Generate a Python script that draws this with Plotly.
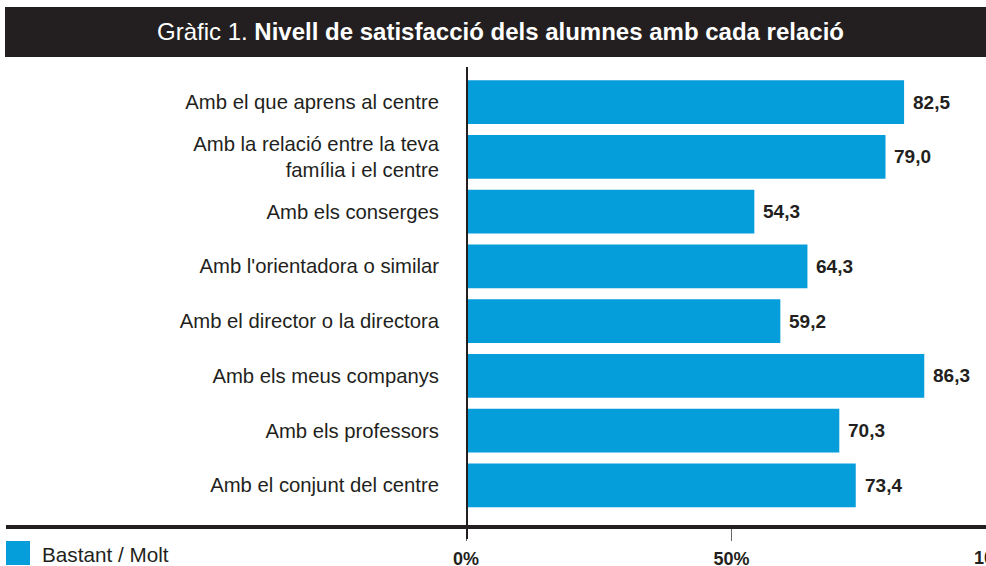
import plotly.graph_objects as go

categories = [
    "Amb el que aprens al centre",
    "Amb la relació entre la teva<br>família i el centre",
    "Amb els conserges",
    "Amb l'orientadora o similar",
    "Amb el director o la directora",
    "Amb els meus companys",
    "Amb els professors",
    "Amb el conjunt del centre",
]
values = [82.5, 79.0, 54.3, 64.3, 59.2, 86.3, 70.3, 73.4]
x_tickvals = [0, 50]
x_ticktext = ["0%", "50%"]
extra_tick_label = "100%"
legend_label = "Bastant / Molt"
title_regular = "Gràfic 1."
title_bold = "Nivell de satisfacció dels alumnes amb cada relació"

BLUE = "#069ddb"
DARK = "#231f20"
FONT = "Liberation Sans, Arial, sans-serif"

W, H = 986, 566
L, R, T, B = 466, 0, 67, 39
plot_w = W - L - R
plot_h = H - T - B
px_per_unit = 5.31


def px_x(px):
    return (px - L) / plot_w


def px_y(py):
    return (H - B - py) / plot_h


ypos = list(range(len(categories)))

fig = go.Figure()
fig.add_trace(go.Bar(
    x=values, y=ypos, orientation="h",
    marker=dict(color=BLUE, line=dict(width=0)),
    width=0.8, showlegend=False, hoverinfo="skip",
))

annotations = []
for v, yy in zip(values, ypos):
    annotations.append(dict(
        x=v, y=yy, xref="x", yref="y", xanchor="left", yanchor="middle",
        xshift=7, text="<b>" + f"{v:.1f}".replace(".", ",") + "</b>",
        showarrow=False, font=dict(family=FONT, size=19, color=DARK),
    ))

# 100% label (partly cut by the right edge)
annotations.append(dict(
    x=px_x(997), y=px_y(558), xref="paper", yref="paper",
    xanchor="center", yanchor="middle", text="<b>" + extra_tick_label + "</b>",
    showarrow=False, font=dict(family=FONT, size=18, color=DARK),
))
# legend label
annotations.append(dict(
    x=px_x(40), y=px_y(554), xref="paper", yref="paper",
    xanchor="left", yanchor="middle", text=legend_label,
    showarrow=False, font=dict(family=FONT, size=20.7, color=DARK),
))
# title
annotations.append(dict(
    x=px_x(500), y=px_y(31), xref="paper", yref="paper",
    xanchor="center", yanchor="middle",
    text=title_regular + " <b>" + title_bold + "</b>",
    showarrow=False, font=dict(family=FONT, size=24, color="white"),
))

shapes = [
    # title bar
    dict(type="rect", xref="paper", yref="paper",
         x0=px_x(5), x1=px_x(990), y0=px_y(57), y1=px_y(7),
         fillcolor=DARK, line=dict(width=0), layer="below"),
    # horizontal baseline
    dict(type="line", xref="paper", yref="paper",
         x0=px_x(6), x1=px_x(990), y0=0, y1=0,
         line=dict(color=DARK, width=4)),
    # vertical axis line
    dict(type="line", xref="x", yref="paper",
         x0=0, x1=0, y0=px_y(539), y1=1,
         line=dict(color=DARK, width=4)),
    # legend square
    dict(type="rect", xref="paper", yref="paper",
         x0=px_x(6), x1=px_x(30), y0=px_y(565), y1=px_y(541),
         fillcolor=BLUE, line=dict(width=0)),
]

fig.update_layout(
    width=W, height=H,
    margin=dict(l=L, r=R, t=T, b=B, pad=0),
    paper_bgcolor="white", plot_bgcolor="white",
    font=dict(family=FONT, color=DARK),
    bargap=0.2,
    xaxis=dict(
        range=[0, plot_w / px_per_unit],
        tickvals=[t for t in x_tickvals],
        ticktext=["<b>" + t + "</b>" for t in x_ticktext],
        ticks="outside", ticklen=13, tickwidth=1.3, tickcolor="#666666",
        tickfont=dict(family=FONT, size=18, color=DARK),
        ticklabelstandoff=2, automargin=False,
        showgrid=False, zeroline=False, showline=False,
    ),
    yaxis=dict(
        range=[7.76, -0.64],
        tickvals=ypos, ticktext=categories,
        ticks="", ticklabelstandoff=26, automargin=False,
        tickfont=dict(family=FONT, size=20.3, color=DARK),
        showgrid=False, zeroline=False, showline=False,
    ),
    annotations=annotations,
    shapes=shapes,
)

fig.write_html(
    "out.html",
    config={"displayModeBar": False},
    post_script="document.body.style.margin='0';document.body.style.overflow='hidden';",
)
